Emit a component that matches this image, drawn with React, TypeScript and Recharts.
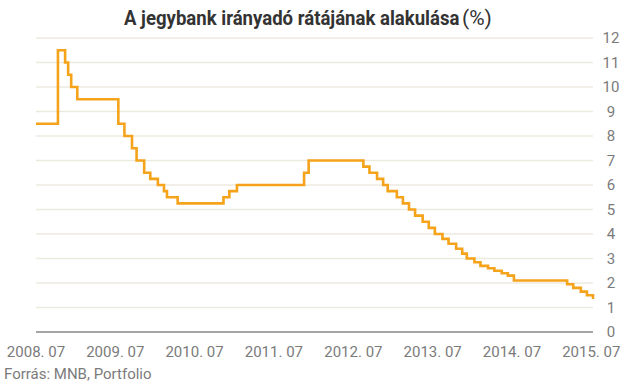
import { CartesianGrid, Line, LineChart, XAxis, YAxis } from 'recharts';

// kamatdöntések: dátum + új alapkamat (%)
const dates = [
  '2008-07-13', '2008-10-22', '2008-11-24', '2008-12-08', '2008-12-22',
  '2009-01-19', '2009-07-27', '2009-08-24', '2009-09-28', '2009-10-19',
  '2009-11-23', '2009-12-21', '2010-01-25', '2010-02-22', '2010-03-08',
  '2010-04-26', '2010-11-23', '2010-12-20', '2011-01-24', '2011-11-29',
  '2011-12-20', '2012-08-28', '2012-09-25', '2012-10-30', '2012-11-27',
  '2012-12-18', '2013-01-29', '2013-02-26', '2013-03-26', '2013-04-23',
  '2013-05-28', '2013-06-25', '2013-07-23', '2013-08-27', '2013-09-24',
  '2013-10-29', '2013-11-26', '2013-12-17', '2014-01-21', '2014-02-18',
  '2014-03-25', '2014-04-23', '2014-05-27', '2014-06-24', '2014-07-22',
  '2015-03-24', '2015-04-21', '2015-05-26', '2015-06-23', '2015-07-21',
];
const rates = [
  8.5, 11.5, 11, 10.5, 10,
  9.5, 8.5, 8, 7.5, 7,
  6.5, 6.25, 6, 5.75, 5.5,
  5.25, 5.5, 5.75, 6, 6.5,
  7, 6.75, 6.5, 6.25, 6,
  5.75, 5.5, 5.25, 5, 4.75,
  4.5, 4.25, 4, 3.8, 3.6,
  3.4, 3.2, 3, 2.85, 2.7,
  2.6, 2.5, 2.4, 2.3, 2.1,
  1.95, 1.8, 1.65, 1.5, 1.35,
];

const tickDates = [
  '2008-07-13', '2009-07-13', '2010-07-13', '2011-07-13',
  '2012-07-13', '2013-07-13', '2014-07-13', '2015-07-13',
];
const tickLabels = [
  '2008. 07', '2009. 07', '2010. 07', '2011. 07',
  '2012. 07', '2013. 07', '2014. 07', '2015. 07',
];
const yTicks = [0, 1, 2, 3, 4, 5, 6, 7, 8, 9, 10, 11, 12];

const toTime = (d: string) => Date.parse(d + 'T00:00:00Z');
const data = dates.map((d, i) => ({ t: toTime(d), v: rates[i] }));
const xTicks = tickDates.map(toTime);

const FONT = 'Roboto, "Noto Sans", sans-serif';
const GREY = '#7b7b7b';

function XTick(props: any) {
  const idx = xTicks.indexOf(props.payload.value);
  return (
    <text
      x={props.x}
      y={352}
      textAnchor="middle"
      dominantBaseline="central"
      fontFamily={FONT}
      fontSize={15}
      fill={GREY}
    >
      {tickLabels[idx]}
    </text>
  );
}

function YTick(props: any) {
  return (
    <text
      x={611}
      y={props.y}
      textAnchor="middle"
      dominantBaseline="central"
      fontFamily={FONT}
      fontSize={15}
      fill={GREY}
    >
      {props.payload.value}
    </text>
  );
}

export default function App() {
  return (
    <div style={{ position: 'absolute', left: 0, top: 0, width: 629, height: 386, background: '#fff' }}>
      <svg width={629} height={32} style={{ position: 'absolute', left: 0, top: 0 }}>
        {/* keskenyített félkövér cím */}
        <g transform="translate(124 25) scale(0.885 1)">
          <text x={0} y={0} fontFamily={FONT} fontSize={21} fontWeight="bold" fill="#333">
            A jegybank irányadó rátájának alakulása
          </text>
        </g>
        <text x={462} y={25} fontFamily={FONT} fontSize={21} fill="#333">
          (%)
        </text>
      </svg>
      <LineChart
        width={629}
        height={386}
        data={data}
        margin={{ top: 38, right: 0, left: 36, bottom: 24 }}
      >
        <CartesianGrid horizontal vertical={false} stroke="#eceadf" strokeWidth={1.3} />
        <XAxis
          dataKey="t"
          type="number"
          scale="time"
          domain={['dataMin', 'dataMax']}
          ticks={xTicks}
          tick={<XTick />}
          tickLine={false}
          axisLine={{ stroke: '#8c8c8c', strokeWidth: 1.3 }}
          interval={0}
          height={30}
        />
        <YAxis
          orientation="right"
          width={36}
          domain={[0, 12]}
          ticks={yTicks}
          tick={<YTick />}
          axisLine={false}
          tickLine={false}
          interval={0}
        />
        <Line
          dataKey="v"
          type="stepAfter"
          stroke="#f5a31a"
          strokeWidth={2.6}
          dot={false}
          isAnimationActive={false}
        />
      </LineChart>
      <svg width={629} height={20} style={{ position: 'absolute', left: 0, top: 366 }}>
        <text x={4} y={13} fontFamily={FONT} fontSize={15} fill={GREY}>
          Forrás: MNB, Portfolio
        </text>
      </svg>
    </div>
  );
}
